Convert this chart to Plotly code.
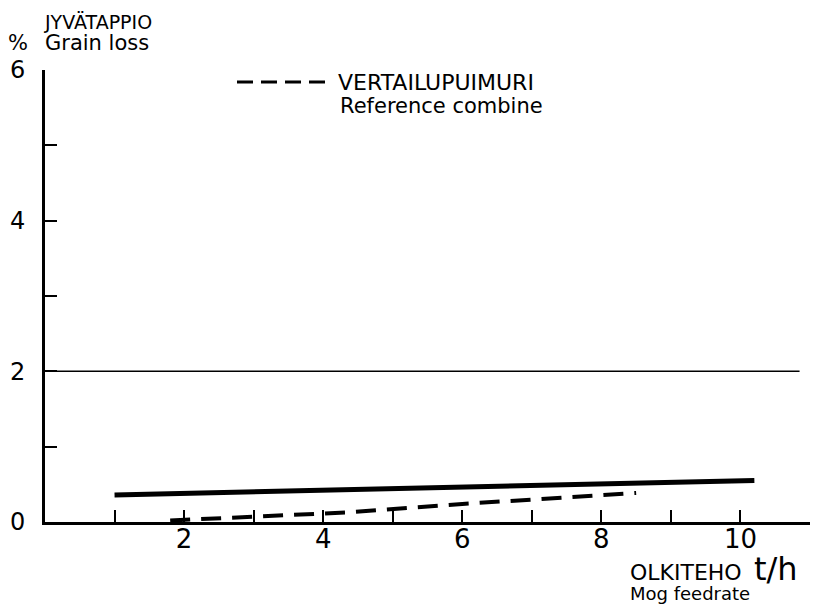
import plotly.graph_objects as go

# --- data ---
solid_x = [1.0, 10.2]
solid_y = [0.36, 0.55]

ref_x = [1.8, 3.0, 4.4, 6.0, 7.4, 8.5]
ref_y = [0.02, 0.065, 0.13, 0.24, 0.315, 0.385]

limit_x = [0.0, 10.85]
limit_y = [2.0, 2.0]

x_ticks = list(range(1, 12))
x_ticktext = ["" if v % 2 else str(v) for v in x_ticks]
y_ticks = list(range(0, 7))
y_ticktext = ["" if v % 2 else str(v) for v in y_ticks]

FONT = "DejaVu Sans"
OFF = 8                      # page body margin of the html page
L, T, W, H = 45, 70, 765, 452  # plot area in page pixels
FW, FH = 818 - OFF, 609 - OFF

fig = go.Figure()
fig.add_trace(go.Scatter(x=limit_x, y=limit_y, mode="lines",
                         line=dict(color="black", width=1.5), showlegend=False))
fig.add_trace(go.Scatter(x=solid_x, y=solid_y, mode="lines",
                         line=dict(color="black", width=5), showlegend=False))
fig.add_trace(go.Scatter(x=ref_x, y=ref_y, mode="lines",
                         line=dict(color="black", width=4, dash="20px,11px"),
                         showlegend=False, name="VERTAILUPUIMURI"))

fig.update_layout(
    width=FW, height=FH,
    margin=dict(l=L - OFF, r=FW - (L - OFF) - W, t=T - OFF, b=FH - (T - OFF) - H),
    plot_bgcolor="white", paper_bgcolor="white",
    font=dict(family=FONT, color="black"),
    xaxis=dict(range=[0, 11], tickvals=x_ticks, ticktext=x_ticktext,
               showgrid=False, zeroline=False, showline=True, automargin=False,
               linecolor="black", linewidth=3, ticks="inside", ticklen=12,
               tickwidth=2, tickcolor="black", tickfont=dict(size=26, family=FONT),
               ticklabelstandoff=-8),
    yaxis=dict(range=[0, 6], tickvals=y_ticks, ticktext=y_ticktext,
               showgrid=False, zeroline=False, showline=True, automargin=False,
               linecolor="black", linewidth=3, ticks="inside", ticklen=12,
               tickwidth=2, tickcolor="black", tickfont=dict(size=24, family=FONT),
               ticklabelstandoff=12),
)

anns = [
    ("JYVÄTAPPIO", 42, 22, 19),
    ("%", 6, 43, 21),
    ("Grain loss", 43, 43, 21),
    ("VERTAILUPUIMURI", 336, 82, 22),
    ("Reference combine", 338, 106, 21),
    ("OLKITEHO", 628, 572, 22),
    ("t/h", 752, 569, 32),
    ("Mog feedrate", 628, 593, 18),
]
for text, px, py, size in anns:
    fig.add_annotation(text=text, xref="paper", yref="paper",
                       x=(px - L) / W, y=1 - (py - T) / H,
                       xanchor="left", yanchor="middle", showarrow=False,
                       font=dict(family=FONT, color="black", size=size))

# legend sample line
fig.add_shape(type="line", xref="paper", yref="paper",
              x0=(237 - L) / W, x1=(326 - L) / W,
              y0=1 - (82 - T) / H, y1=1 - (82 - T) / H,
              line=dict(color="black", width=3, dash="16px,8px"))

fig.write_html("out.html")
